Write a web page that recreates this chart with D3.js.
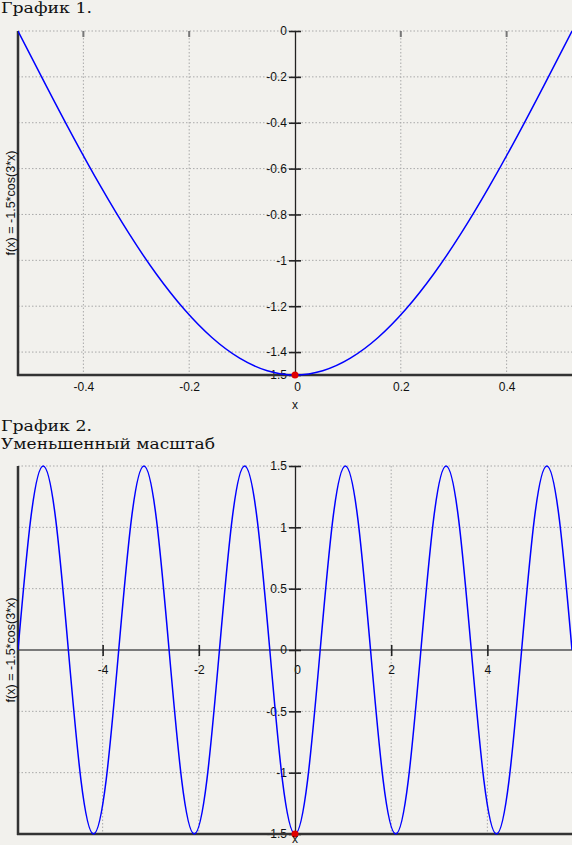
<!DOCTYPE html>
<html><head><meta charset="utf-8">
<script src="https://cdn.jsdelivr.net/npm/d3@7"></script>
<style>
html,body{margin:0;padding:0;background:#f2f1ed;}
svg{display:block;}
</style></head>
<body>
<script>
// ---- Data ----
const title1 = "График 1.";
const title2a = "График 2.";
const title2b = "Уменьшенный масштаб";
const yLabel = "f(x) = -1.5*cos(3*x)";
const xLabel = "x";

// Chart 1 samples
const x1 = [-0.5236,-0.4712,-0.4189,-0.3665,-0.3142,-0.2618,-0.2094,-0.1571,-0.1047,-0.0524,0,
             0.0524,0.1047,0.1571,0.2094,0.2618,0.3142,0.3665,0.4189,0.4712,0.5236];
const y1 = [0,-0.2346,-0.4635,-0.6810,-0.8817,-1.0607,-1.2135,-1.3365,-1.4266,-1.4815,-1.5,
            -1.4815,-1.4266,-1.3365,-1.2135,-1.0607,-0.8817,-0.6810,-0.4635,-0.2346,0];
const xTicks1 = [-0.4,-0.2,0,0.2,0.4];
const xTickLabels1 = ["-0.4","-0.2","0","0.2","0.4"];
const yTicks1 = [0,-0.2,-0.4,-0.6,-0.8,-1,-1.2,-1.4,-1.5];
const yTickLabels1 = ["0","-0.2","-0.4","-0.6","-0.8","-1","-1.2","-1.4","-1.5"];
const yGrid1 = [0,-0.2,-0.4,-0.6,-0.8,-1,-1.2,-1.4];

// Chart 2 samples
const x2 = [-5.7596,-5.4978,-5.2360,-4.9742,-4.7124,-4.4506,-4.1888,-3.9270,-3.6652,-3.4034,-3.1416,
            -2.8798,-2.6180,-2.3562,-2.0944,-1.8326,-1.5708,-1.3090,-1.0472,-0.7854,-0.5236,-0.2618,0,
            0.2618,0.5236,0.7854,1.0472,1.3090,1.5708,1.8326,2.0944,2.3562,2.6180,2.8798,3.1416,
            3.4034,3.6652,3.9270,4.1888,4.4506,4.7124,4.9742,5.2360,5.4978,5.7596];
const y2 = [0,1.0607,1.5,1.0607,0,-1.0607,-1.5,-1.0607,0,1.0607,1.5,
            1.0607,0,-1.0607,-1.5,-1.0607,0,1.0607,1.5,1.0607,0,-1.0607,-1.5,
            -1.0607,0,1.0607,1.5,1.0607,0,-1.0607,-1.5,-1.0607,0,1.0607,1.5,
            1.0607,0,-1.0607,-1.5,-1.0607,0,1.0607,1.5,1.0607,0];
const xTicks2 = [-4,-2,0,2,4];
const xTickLabels2 = ["-4","-2","0","2","4"];
const yTicks2 = [1.5,1,0.5,0,-0.5,-1,-1.5];
const yTickLabels2 = ["1.5","1","0.5","0","-0.5","-1","-1.5"];
const yGrid2 = [1.5,1,0.5,-0.5,-1];

const minPoint = {x:0, y:-1.5};

// ---- Drawing ----
const W = 572, H = 845;
const svg = d3.select("body").append("svg").attr("width", W).attr("height", H);
const FONT = "'Liberation Sans', Arial, sans-serif";
const SERIF = "'DejaVu Serif', serif";
const FS = 12;

function fmtMap(vals, labels){ const m = new Map(vals.map((v,i)=>[v,labels[i]])); return d => m.get(d); }

function chart(cfg){
  const {xs, ys, xDom, yDom, top, bottom, left, right, xTicks, xTickLabels, yTicks, yTickLabels, yGrid, mode, clipId} = cfg;
  const x = d3.scaleLinear().domain(xDom).range([left, right]);
  const y = d3.scaleLinear().domain(yDom).range([bottom, top]);
  const g = svg.append("g");
  const grid = "#a9a9a9";

  g.selectAll(".hg").data(yGrid).join("line")
    .attr("x1", left).attr("x2", right)
    .attr("y1", d=>y(d)).attr("y2", d=>y(d))
    .attr("stroke", grid).attr("stroke-width",1).attr("stroke-dasharray","1.5,2");
  g.selectAll(".vg").data(xTicks.filter(d=>d!==0)).join("line")
    .attr("x1", d=>x(d)).attr("x2", d=>x(d))
    .attr("y1", top).attr("y2", bottom)
    .attr("stroke", grid).attr("stroke-width",1).attr("stroke-dasharray","1.5,2");

  if(mode === 2){
    g.append("line").attr("x1", left).attr("x2", right).attr("y1", y(0)).attr("y2", y(0))
      .attr("stroke", "#7a7a7a").attr("stroke-width", 2);
  }

  const xAxisY = mode===1 ? bottom : y(0);
  const xAxis = d3.axisBottom(x).tickValues(xTicks).tickFormat(fmtMap(xTicks, xTickLabels))
      .tickSizeOuter(0).tickSizeInner(mode===1?0:6).tickPadding(mode===1?7:9);
  const xg = g.append("g").attr("transform", `translate(0,${xAxisY})`).call(xAxis);
  xg.select(".domain").remove();
  xg.selectAll("text").attr("font-family", FONT).attr("font-size", FS).attr("fill", "#111");
  xg.selectAll(".tick").filter(d=>d===0).select("text").attr("dx", 2);
  if(mode===2){
    xg.selectAll(".tick line").attr("y1", -5).attr("y2", 6).attr("stroke", "#222").attr("stroke-width", 1.6);
    xg.selectAll(".tick").filter(d=>d===0).select("line").remove();
  } else {
    xg.selectAll(".tick line").remove();
    g.selectAll(".xt").data(xTicks.filter(d=>d!==0)).join("line")
      .attr("x1", d=>x(d)).attr("x2", d=>x(d))
      .attr("y1", y(0)).attr("y2", y(0)+6)
      .attr("stroke", "#777").attr("stroke-width", 2);
  }

  const yAxis = d3.axisLeft(y).tickValues(yTicks).tickFormat(fmtMap(yTicks, yTickLabels))
      .tickSizeOuter(0).tickSizeInner(6).tickPadding(2);
  const yg = g.append("g").attr("transform", `translate(${x(0)},0)`).call(yAxis);
  yg.select(".domain").attr("stroke", "#222").attr("stroke-width", 1.3);
  yg.selectAll(".tick line").attr("x1", 6).attr("stroke", "#222").attr("stroke-width", 1.6);
  yg.selectAll("text").attr("font-family", FONT).attr("font-size", FS).attr("fill", "#111");

  g.append("line").attr("x1", left).attr("x2", left).attr("y1", top).attr("y2", bottom+1)
    .attr("stroke", "#333").attr("stroke-width", 2.5);
  g.append("line").attr("x1", left-1).attr("x2", right).attr("y1", bottom).attr("y2", bottom)
    .attr("stroke", "#333").attr("stroke-width", 2.5);

  svg.append("clipPath").attr("id", clipId).append("rect")
    .attr("x", left).attr("y", top-1).attr("width", right-left).attr("height", bottom-top+2);
  const line = d3.line().x(d=>x(d[0])).y(d=>y(d[1])).curve(d3.curveNatural);
  g.append("path").datum(xs.map((v,i)=>[v, ys[i]]))
    .attr("d", line).attr("fill","none").attr("stroke","#0000ff").attr("stroke-width",1.5)
    .attr("clip-path", `url(#${clipId})`);

  g.append("circle").attr("cx", x(minPoint.x)).attr("cy", y(minPoint.y)).attr("r", 3.5).attr("fill", "#e00000");

  g.append("text").attr("x", x(0)).attr("y", cfg.xLabelY).attr("text-anchor","middle")
    .attr("font-family", FONT).attr("font-size", FS).attr("fill","#111").text(xLabel);
  g.append("text").attr("transform", `translate(15,${(top+bottom)/2}) rotate(-90)`)
    .attr("text-anchor","middle").attr("font-family", FONT).attr("font-size", 12.5).attr("fill","#111")
    .attr("textLength", 105).attr("lengthAdjust", "spacing")
    .text(yLabel);
}

function title(t, yPos, len){
  svg.append("text").attr("x", 1).attr("y", yPos).attr("font-family", SERIF).attr("font-size", 14.5)
    .attr("textLength", len).attr("lengthAdjust","spacingAndGlyphs").attr("fill","#111").text(t);
}
title(title1, 12.5, 91);
title(title2a, 431, 91);
title(title2b, 449, 214);

chart({xs:x1, ys:y1, xDom:[-0.5236,0.5236], yDom:[-1.5,0], top:31, bottom:375, left:18, right:572,
  xTicks:xTicks1, xTickLabels:xTickLabels1, yTicks:yTicks1, yTickLabels:yTickLabels1, yGrid:yGrid1,
  mode:1, clipId:"c1", xLabelY:409});
chart({xs:x2, ys:y2, xDom:[-5.7596,5.7596], yDom:[-1.5,1.5], top:466, bottom:834, left:18, right:572,
  xTicks:xTicks2, xTickLabels:xTickLabels2, yTicks:yTicks2, yTickLabels:yTickLabels2, yGrid:yGrid2,
  mode:2, clipId:"c2", xLabelY:842.5});
</script>
</body></html>
